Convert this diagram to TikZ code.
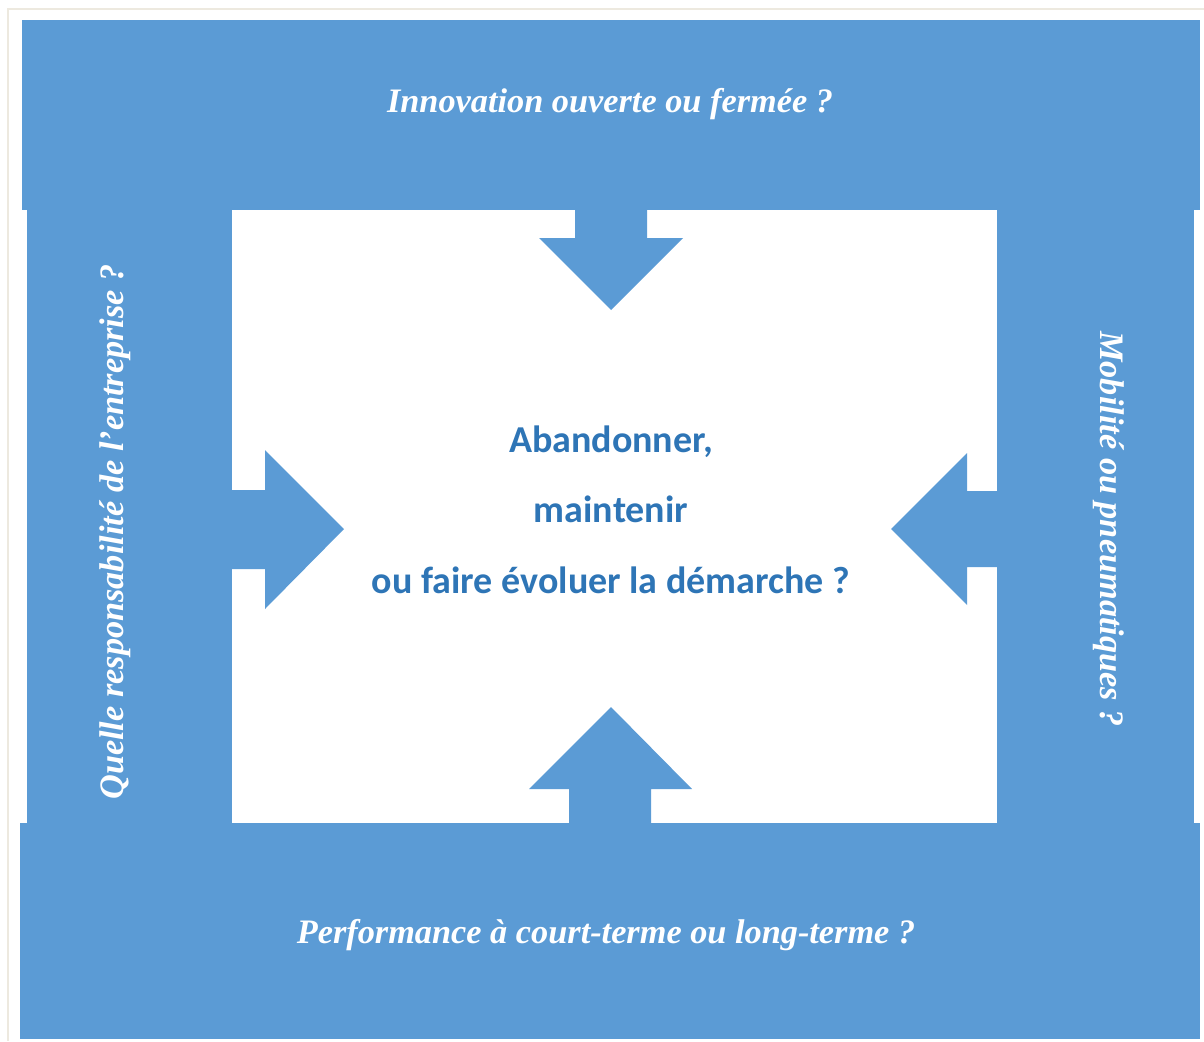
\documentclass[tikz,border=0pt]{standalone}
\usepackage{fontspec}
\setmainfont{Liberation Serif}
\newfontfamily\calibri{Carlito}
\usepackage{tikz}
\definecolor{bandblue}{HTML}{5B9BD5}
\definecolor{textblue}{HTML}{2E75B6}
\definecolor{framecream}{HTML}{EDE9DF}
\tikzset{
  question/.style={text=white, inner sep=0pt, anchor=base, font=\bfseries\itshape\fontsize{34.3}{40}\selectfont},
  centre/.style={text=textblue, inner sep=0pt, anchor=base, font=\calibri\bfseries\fontsize{38}{45}\selectfont}
}

\begin{document}
\begin{tikzpicture}[x=1pt,y=-1pt]
\useasboundingbox (0,0) rectangle (1204,1041);
\draw [framecream, line width=1.5pt] (8,1041) -- (8,9) -- (1204,9);
\fill [bandblue] (22,20) rectangle (1200,209.5);
\fill [bandblue] (27,208.5) rectangle (232,823.5);
\fill [bandblue] (997,208.5) rectangle (1194,823.5);
\fill [bandblue] (20,822.5) rectangle (1200,1039);
\fill [bandblue] (575,208) -- (575,238) -- (539,238) -- (611,310) -- (683,238) -- (647,238) -- (647,208) -- cycle;
\fill [bandblue] (569,824) -- (569,789) -- (529,789) -- (611,707) -- (692,789) -- (651,789) -- (651,824) -- cycle;
\fill [bandblue] (231,490) -- (265,490) -- (265,450) -- (344,529) -- (265,609) -- (265,569) -- (231,569) -- cycle;
\fill [bandblue] (998,491) -- (967,491) -- (967,453) -- (891,529) -- (967,605) -- (967,567) -- (998,567) -- cycle;
\node [question] (top) at (610,112) {Innovation ouverte ou fermée ?};
\node [question] (bottom) at (606,943) {Performance à court-terme ou long-terme ?};
\node [question, rotate=90] (left) at (123,532) {Quelle responsabilité de l’entreprise ?};
\node [question, rotate=-90] (right) at (1100,529) {Mobilité ou pneumatiques ?};
\node [centre] (abandon) at (611,452) {Abandonner,};
\node [centre] (maintain) at (611,522.5) {maintenir};
\node [centre] (evolve) at (611,593) {ou faire évoluer la démarche ?};
\end{tikzpicture}
\end{document}
